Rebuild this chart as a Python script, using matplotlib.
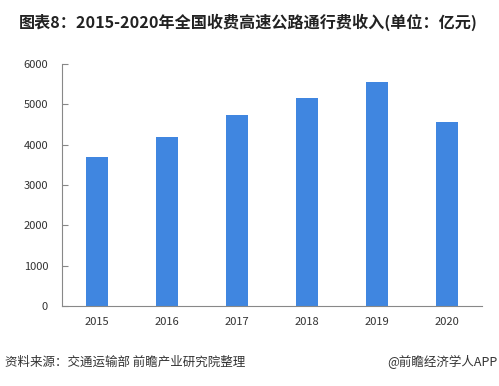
import matplotlib
matplotlib.use("Agg")
import matplotlib.pyplot as plt

plt.rcParams['font.family'] = ['Noto Sans CJK SC', 'DejaVu Sans']

years = ["2015", "2016", "2017", "2018", "2019", "2020"]
revenue = [3705, 4181, 4743, 5168, 5551, 4566]
yticks = [0, 1000, 2000, 3000, 4000, 5000, 6000]

fig = plt.figure(figsize=(4.99, 3.86), dpi=100)
ax = fig.add_axes([62/499, 1-306/386, 420/499, 242/386])
ax.bar(range(len(years)), revenue, width=0.31, color="#4086e0")
ax.set_xlim(-0.5, len(years)-0.5)
ax.set_ylim(0, 6000)
ax.set_yticks(yticks)
ax.set_yticklabels([str(v) for v in yticks])
ax.set_xticks(range(len(years)))
ax.set_xticklabels(years)
for s in ["top", "right"]:
    ax.spines[s].set_visible(False)
for s in ["left", "bottom"]:
    ax.spines[s].set_color("#888888")
    ax.spines[s].set_linewidth(0.8)
ax.tick_params(axis='y', direction='in', length=4, color="#888888", labelsize=8, labelcolor="#333333", pad=10)
ax.tick_params(axis='x', length=0, labelsize=8, labelcolor="#333333", pad=8)

fig.text(248/499, 1-22/386, "图表8：2015-2020年全国收费高速公路通行费收入(单位：亿元)",
         ha="center", va="center", fontsize=11.6, fontweight="bold", color="#222222")
fig.text(5/499, 1-362/386, "资料来源：交通运输部 前瞻产业研究院整理",
         ha="left", va="center", fontsize=9, color="#333333")
fig.text(497/499, 1-362/386, "@前瞻经济学人APP",
         ha="right", va="center", fontsize=9, color="#333333")

fig.savefig("out.png", dpi=100)
